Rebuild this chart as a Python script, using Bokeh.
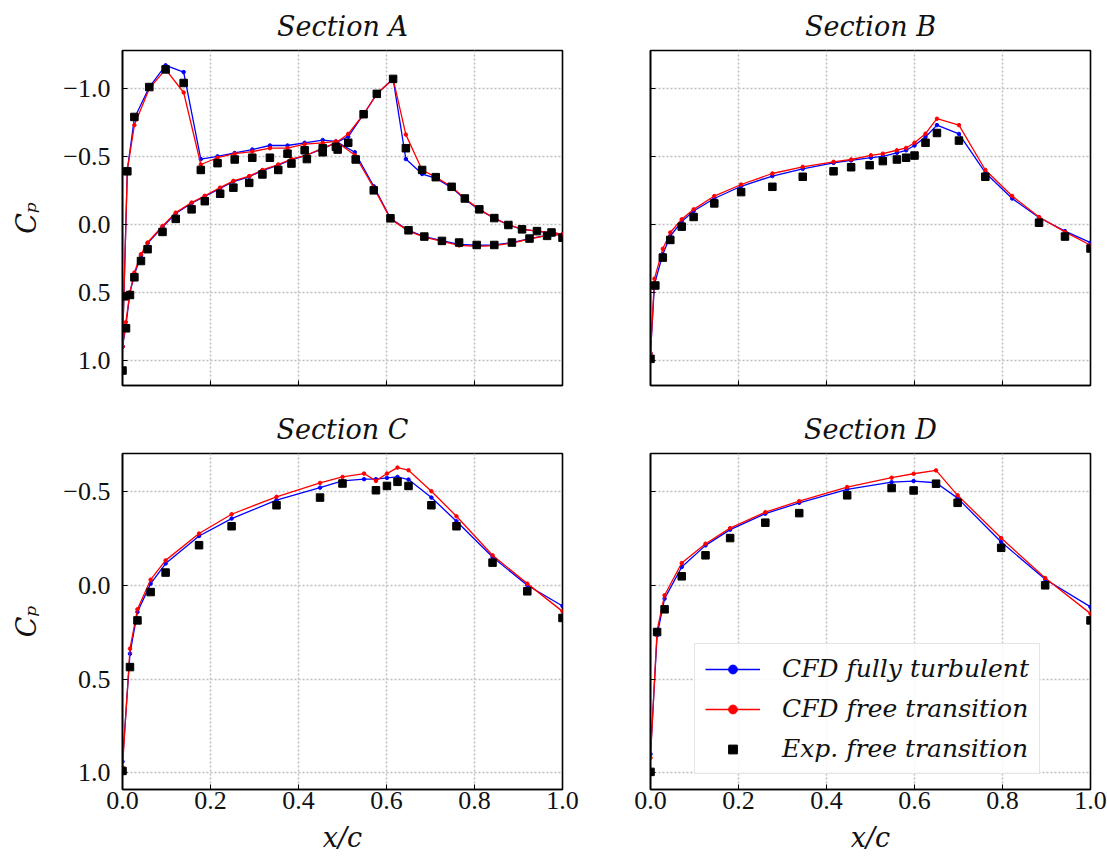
from bokeh.plotting import figure
from bokeh.layouts import column, row
from bokeh.models import Range1d, FixedTicker, Legend, LegendItem
from bokeh.embed import file_html
from bokeh.resources import INLINE

# ---------------- data ----------------
titles = ["Section A", "Section B", "Section C", "Section D"]
series_names = ["CFD fully turbulent", "CFD free transition", "Exp. free transition"]

x_ticks = [0.0, 0.2, 0.4, 0.6, 0.8, 1.0]
x_tick_labels = ["0.0", "0.2", "0.4", "0.6", "0.8", "1.0"]
y_ticks_top = [-1.0, -0.5, 0.0, 0.5, 1.0]
y_tick_labels_top = ["\u22121.0", "\u22120.5", "0.0", "0.5", "1.0"]
y_ticks_bottom = [-0.5, 0.0, 0.5, 1.0]
y_tick_labels_bottom = ["\u22120.5", "0.0", "0.5", "1.0"]

# Section A (two branches)
xa_s1 = [0.0, 0.011, 0.027, 0.061, 0.098, 0.139, 0.178, 0.216, 0.255, 0.295, 0.335, 0.375, 0.414, 0.455,
         0.485, 0.528, 0.571, 0.609, 0.650, 0.686, 0.726, 0.765, 0.805, 0.845, 0.885, 0.925, 0.965, 1.0]
cpa_turb_s1 = [0.90, -0.40, -0.78, -1.01, -1.17, -1.12, -0.48, -0.50, -0.525, -0.55, -0.58, -0.58, -0.60, -0.62,
               -0.61, -0.53, -0.28, -0.045, 0.045, 0.09, 0.12, 0.148, 0.154, 0.152, 0.134, 0.105, 0.082, 0.073]
cpa_trans_s1 = [0.90, -0.40, -0.73, -1.00, -1.14, -0.97, -0.44, -0.49, -0.52, -0.535, -0.56, -0.56, -0.59, -0.60,
                -0.61, -0.51, -0.27, -0.04, 0.05, 0.095, 0.126, 0.155, 0.162, 0.157, 0.138, 0.108, 0.082, 0.073]
xa_s2 = [0.0, 0.0076, 0.017, 0.027, 0.042, 0.057, 0.091, 0.121, 0.157, 0.187, 0.222, 0.252, 0.288, 0.318,
         0.354, 0.384, 0.419, 0.455, 0.485, 0.513, 0.548, 0.578, 0.615, 0.644, 0.681, 0.712, 0.748, 0.778,
         0.811, 0.845, 0.877, 0.908, 0.942, 0.975, 1.0]
cpa_turb_s2 = [0.90, 0.75, 0.50, 0.37, 0.23, 0.14, 0.02, -0.08, -0.155, -0.205, -0.265, -0.315, -0.35, -0.395,
               -0.435, -0.475, -0.51, -0.555, -0.60, -0.645, -0.81, -0.96, -1.07, -0.48, -0.37, -0.34, -0.27,
               -0.185, -0.105, -0.045, 0.005, 0.037, 0.05, 0.062, 0.073]
cpa_trans_s2 = [0.90, 0.72, 0.50, 0.355, 0.22, 0.134, 0.012, -0.086, -0.16, -0.21, -0.27, -0.32, -0.355, -0.40,
                -0.44, -0.48, -0.51, -0.56, -0.60, -0.665, -0.81, -0.96, -1.07, -0.66, -0.40, -0.347, -0.276,
                -0.19, -0.11, -0.046, 0.003, 0.035, 0.05, 0.062, 0.073]
xa_exp = [0.0, 0.004, 0.008, 0.011, 0.017, 0.027, 0.027, 0.042, 0.057, 0.061, 0.091, 0.098, 0.121, 0.139,
          0.157, 0.178, 0.187, 0.216, 0.222, 0.252, 0.255, 0.288, 0.295, 0.318, 0.335, 0.354, 0.375, 0.384,
          0.414, 0.419, 0.455, 0.455, 0.485, 0.489, 0.513, 0.53, 0.548, 0.571, 0.578, 0.609, 0.615, 0.644,
          0.65, 0.681, 0.686, 0.712, 0.726, 0.748, 0.765, 0.778, 0.805, 0.811, 0.845, 0.845, 0.877, 0.885,
          0.908, 0.925, 0.942, 0.965, 0.975, 1.0]
cpa_exp = [1.076, 0.53, 0.765, -0.39, 0.52, -0.79, 0.39, 0.27, 0.183, -1.01, 0.056, -1.14, -0.04, -1.04,
           -0.11, -0.40, -0.17, -0.45, -0.225, -0.27, -0.477, -0.305, -0.49, -0.367, -0.49, -0.40, -0.52, -0.447,
           -0.545, -0.48, -0.53, -0.56, -0.57, -0.55, -0.60, -0.477, -0.81, -0.25, -0.96, -0.044, -1.07, -0.56,
           0.044, -0.40, 0.09, -0.347, 0.122, -0.276, 0.134, -0.19, 0.152, -0.11, 0.152, -0.046, 0.005, 0.134,
           0.037, 0.105, 0.05, 0.085, 0.06, 0.098]

# Section B
xb = [0.0, 0.009, 0.028, 0.045, 0.071, 0.098, 0.145, 0.206, 0.277, 0.346, 0.416, 0.456, 0.501, 0.528, 0.56,
      0.581, 0.60, 0.625, 0.651, 0.701, 0.761, 0.822, 0.883, 0.942, 1.0]
cpb_turb = [0.95, 0.44, 0.22, 0.086, -0.02, -0.098, -0.19, -0.28, -0.355, -0.408, -0.452, -0.47, -0.49, -0.50,
            -0.526, -0.545, -0.58, -0.643, -0.73, -0.665, -0.38, -0.19, -0.05, 0.05, 0.135]
cpb_trans = [0.95, 0.40, 0.18, 0.06, -0.037, -0.11, -0.208, -0.293, -0.374, -0.423, -0.46, -0.477, -0.508, -0.52,
             -0.545, -0.562, -0.60, -0.667, -0.777, -0.73, -0.40, -0.208, -0.054, 0.056, 0.154]
xb_exp = [0.0, 0.011, 0.028, 0.045, 0.071, 0.098, 0.145, 0.206, 0.277, 0.346, 0.416, 0.456, 0.498, 0.528, 0.56,
          0.581, 0.60, 0.625, 0.651, 0.701, 0.761, 0.883, 0.942, 1.0]
cpb_exp = [0.99, 0.45, 0.245, 0.115, 0.017, -0.054, -0.154, -0.237, -0.276, -0.35, -0.39, -0.42, -0.435, -0.465,
           -0.477, -0.49, -0.506, -0.60, -0.672, -0.616, -0.35, -0.012, 0.09, 0.178]

# Section C
xc = [0.0, 0.017, 0.034, 0.064, 0.098, 0.174, 0.248, 0.35, 0.449, 0.50, 0.549, 0.576, 0.601, 0.625, 0.65,
      0.702, 0.759, 0.841, 0.92, 1.0]
cpc_turb = [0.94, 0.365, 0.142, -0.009, -0.116, -0.263, -0.356, -0.454, -0.521, -0.557, -0.566, -0.566, -0.573,
            -0.578, -0.564, -0.468, -0.342, -0.151, 0.0, 0.11]
cpc_trans = [0.97, 0.338, 0.128, -0.03, -0.133, -0.276, -0.379, -0.472, -0.546, -0.578, -0.596, -0.557, -0.596,
             -0.628, -0.614, -0.502, -0.368, -0.16, -0.009, 0.139]
xc_exp = [0.0, 0.017, 0.034, 0.064, 0.098, 0.174, 0.248, 0.35, 0.449, 0.50, 0.576, 0.601, 0.625, 0.65, 0.702,
          0.759, 0.841, 0.92, 1.0]
cpc_exp = [0.99, 0.436, 0.187, 0.036, -0.068, -0.214, -0.315, -0.427, -0.468, -0.543, -0.507, -0.53, -0.552,
           -0.53, -0.427, -0.315, -0.121, 0.032, 0.174]

# Section D
xd = [0.0, 0.015, 0.032, 0.071, 0.125, 0.181, 0.261, 0.338, 0.447, 0.548, 0.598, 0.649, 0.698, 0.797, 0.897, 1.0]
cpd_turb = [0.90, 0.266, 0.071, -0.098, -0.213, -0.297, -0.382, -0.44, -0.512, -0.55, -0.556, -0.547, -0.465,
            -0.231, -0.032, 0.115]
cpd_trans = [0.92, 0.24, 0.053, -0.119, -0.222, -0.305, -0.39, -0.449, -0.524, -0.574, -0.595, -0.613, -0.48,
             -0.252, -0.039, 0.151]
xd_exp = [0.0, 0.015, 0.032, 0.071, 0.125, 0.181, 0.261, 0.338, 0.447, 0.548, 0.598, 0.649, 0.698, 0.797, 0.897,
          1.0]
cpd_exp = [0.995, 0.249, 0.128, -0.048, -0.16, -0.252, -0.334, -0.385, -0.48, -0.519, -0.506, -0.542, -0.44,
           -0.2, 0.0, 0.187]

# ---------------- style ----------------
BLUE = "#0000ff"
RED = "#ff0000"
SERIF = "Liberation Serif"
ISERIF = "DejaVu Serif"
TEXT = "#111111"


def make_fig(title, width, height, mb_left, mb_right, mb_top, mb_bottom, y_rng, y_ticks, y_labels,
             show_xlabels, show_ylabels):
    p = figure(width=width, height=height, output_backend="svg", toolbar_location=None,
               x_range=Range1d(0.0, 1.0), y_range=Range1d(*y_rng),
               min_border_left=mb_left, min_border_right=mb_right,
               min_border_top=mb_top, min_border_bottom=mb_bottom)
    p.title.text = title
    p.title.align = "center"
    p.title.text_font = ISERIF
    p.title.text_font_style = "italic"
    p.title.text_font_size = "27px"
    p.title.text_color = TEXT
    p.title.standoff = 17
    p.outline_line_color = "black"
    p.outline_line_width = 1.6
    p.background_fill_color = "white"
    p.border_fill_color = "white"

    p.xaxis.ticker = FixedTicker(ticks=x_ticks)
    p.yaxis.ticker = FixedTicker(ticks=y_ticks)
    for ax in (p.xaxis, p.yaxis):
        ax.major_tick_in = 5
        ax.major_tick_out = 0
        ax.minor_tick_in = 0
        ax.minor_tick_out = 0
        ax.axis_line_color = "black"
        ax.axis_line_width = 1.6
        ax.major_tick_line_color = "black"
        ax.major_label_text_font = SERIF
        ax.major_label_text_font_size = "26px"
        ax.major_label_text_color = TEXT
        ax.axis_label_text_font = ISERIF
        ax.axis_label_text_font_style = "italic"
        ax.axis_label_text_font_size = "27px"
        ax.axis_label_text_color = TEXT
    p.xaxis.major_label_standoff = 2
    p.yaxis.major_label_standoff = 12
    if show_xlabels:
        p.xaxis.major_label_overrides = {t: l for t, l in zip(x_ticks, x_tick_labels)}
        p.xaxis.axis_label = "x/c"
        p.xaxis.axis_label_standoff = 10
    else:
        p.xaxis.major_label_overrides = {t: "" for t in x_ticks}
        p.xaxis.major_label_text_font_size = "1px"
        p.xaxis.major_label_standoff = 0
    if show_ylabels:
        p.yaxis.major_label_overrides = {t: l for t, l in zip(y_ticks, y_labels)}
        p.yaxis.axis_label = "C\u209a"
        p.yaxis.axis_label_standoff = 18
    else:
        p.yaxis.major_label_overrides = {t: "" for t in y_ticks}
        p.yaxis.major_label_text_font_size = "1px"
        p.yaxis.major_label_standoff = 0

    p.grid.grid_line_color = "#bdbdbd"
    p.grid.grid_line_width = 1.4
    p.grid.grid_line_dash = "2 2"
    return p


def add_cfd(p, x, y, color):
    ln = p.line(x, y, line_color=color, line_width=1.3)
    sc = p.scatter(x, y, marker="circle", size=3.5, fill_color=color, line_color=color)
    return ln, sc


def add_exp(p, x, y):
    return p.scatter(x, y, marker="square", size=7.5, fill_color="black", line_color="black")


TOP_RNG = (1.186, -1.279)
BOT_RNG = (1.089, -0.703)

pA = make_fig(titles[0], 606, 400, 122, 44, 49, 15, TOP_RNG, y_ticks_top, y_tick_labels_top, False, True)
pB = make_fig(titles[1], 501, 400, 44, 17, 49, 15, TOP_RNG, y_ticks_top, y_tick_labels_top, False, False)
pC = make_fig(titles[2], 606, 462, 122, 44, 53, 73, BOT_RNG, y_ticks_bottom, y_tick_labels_bottom, True, True)
pD = make_fig(titles[3], 501, 462, 44, 17, 53, 73, BOT_RNG, y_ticks_bottom, y_tick_labels_bottom, True, False)

add_cfd(pA, xa_s1, cpa_turb_s1, BLUE)
add_cfd(pA, xa_s2, cpa_turb_s2, BLUE)
add_cfd(pA, xa_s1, cpa_trans_s1, RED)
add_cfd(pA, xa_s2, cpa_trans_s2, RED)
add_exp(pA, xa_exp, cpa_exp)

add_cfd(pB, xb, cpb_turb, BLUE)
add_cfd(pB, xb, cpb_trans, RED)
add_exp(pB, xb_exp, cpb_exp)

add_cfd(pC, xc, cpc_turb, BLUE)
add_cfd(pC, xc, cpc_trans, RED)
add_exp(pC, xc_exp, cpc_exp)

l_turb = add_cfd(pD, xd, cpd_turb, BLUE)
l_trans = add_cfd(pD, xd, cpd_trans, RED)
s_exp = add_exp(pD, xd_exp, cpd_exp)

legend = Legend(items=[LegendItem(label=series_names[0], renderers=list(l_turb)),
                       LegendItem(label=series_names[1], renderers=list(l_trans)),
                       LegendItem(label=series_names[2], renderers=[s_exp])],
                location=(44, 15))
legend.label_text_font = ISERIF
legend.label_text_font_style = "italic"
legend.label_text_font_size = "25px"
legend.label_text_color = TEXT
legend.glyph_width = 55
legend.glyph_height = 22
legend.label_height = 22
legend.label_standoff = 22
legend.spacing = 11
legend.padding = 10
legend.margin = 0
legend.border_line_color = "#cccccc"
legend.border_line_width = 1.2
legend.background_fill_color = "white"
legend.background_fill_alpha = 0.85
pD.add_layout(legend)

layout = column(row(pA, pB), row(pC, pD))
open("out.html", "w").write(file_html(layout, INLINE))
